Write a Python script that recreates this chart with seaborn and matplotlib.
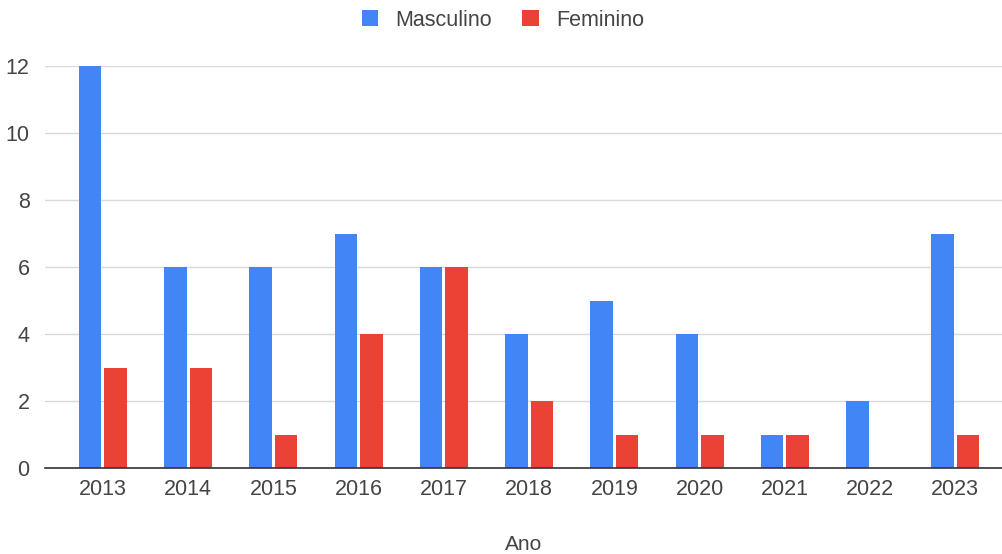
import numpy as np
import pandas as pd
import seaborn as sns
from matplotlib import pyplot as plt

anos = ["2013", "2014", "2015", "2016", "2017", "2018", "2019", "2020", "2021", "2022", "2023"]
masculino = [12, 6, 6, 7, 6, 4, 5, 4, 1, 2, 7]
feminino = [3, 3, 1, 4, 6, 2, 1, 1, 1, 0, 1]

df = pd.DataFrame({
    "Ano": anos * 2,
    "Valor": masculino + feminino,
    "Sexo": ["Masculino"] * len(anos) + ["Feminino"] * len(anos),
})

sns.set_theme(style="white")
plt.rcParams["font.family"] = ["Liberation Sans", "DejaVu Sans"]

fig = plt.figure(figsize=(10.03, 5.54), dpi=100)
ax = fig.add_axes([45 / 1003, (554 - 468) / 554, 1 - 45 / 1003, (468 - 66) / 554])

sns.barplot(data=df, x="Ano", y="Valor", hue="Sexo",
            palette={"Masculino": "#4285F4", "Feminino": "#EA4335"},
            width=0.6, gap=0.12, saturation=1, linewidth=0, ax=ax)

ax.set_xlim(-0.68, 10.56)
ax.set_ylim(0, 12)
ax.set_yticks(range(0, 13, 2))
ax.yaxis.grid(True, color="#d9d9d9", linewidth=1)
ax.set_axisbelow(True)
for s in ["top", "right", "left"]:
    ax.spines[s].set_visible(False)
ax.spines["bottom"].set_color("#333333")
ax.spines["bottom"].set_linewidth(1.2)
ax.tick_params(axis="both", length=0, labelsize=15.5, colors="#444444")
ax.tick_params(axis="x", pad=8)
ax.tick_params(axis="y", pad=11)
ax.set_ylabel("")
ax.set_xlabel("Ano", fontsize=15, color="#444444", labelpad=25)

ax.legend(loc="center", bbox_to_anchor=(503 / 1003, 1 - 20 / 554),
          bbox_transform=fig.transFigure, ncol=2, frameon=False,
          fontsize=15.5, handlelength=0.75, handleheight=0.75,
          columnspacing=1.4, handletextpad=0.8, labelcolor="#444444")

fig.savefig("out.png", dpi=100)
